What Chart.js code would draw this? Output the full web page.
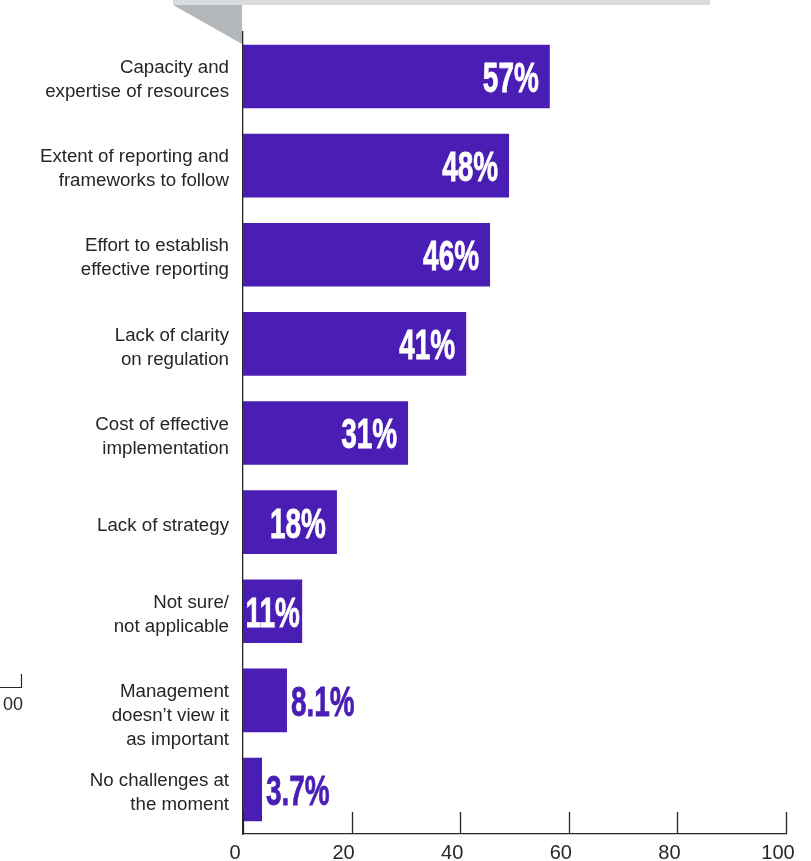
<!DOCTYPE html>
<html>
<head>
<meta charset="utf-8">
<script src="https://cdn.jsdelivr.net/npm/chart.js@4"></script>
<style>
  html, body { margin: 0; padding: 0; background: #fff; }
  #wrap { position: relative; width: 811px; height: 861px; }
</style>
</head>
<body>
<div id="wrap"><canvas id="c" width="811" height="861"></canvas></div>
<script>
// ---- data ----
const categories = [
  ["Capacity and", "expertise of resources"],
  ["Extent of reporting and", "frameworks to follow"],
  ["Effort to establish", "effective reporting"],
  ["Lack of clarity", "on regulation"],
  ["Cost of effective", "implementation"],
  "Lack of strategy",
  ["Not sure/", "not applicable"],
  ["", "Management", "doesn\u2019t view it", "as important"],
  ["No challenges at", "the moment"]
];
const barValues = [56.5, 49.0, 45.5, 41.1, 30.4, 17.3, 10.9, 8.1, 3.5];
const valueLabels = ["57%", "48%", "46%", "41%", "31%", "18%", "11%", "8.1%", "3.7%"];
const xTickValues = [0, 20, 40, 60, 80, 100];

const PURPLE = "#4a1eb4";
const INK = "#262626";

const decorPlugin = {
  id: "decor",
  beforeDraw(chart) {
    const ctx = chart.ctx;
    ctx.save();
    // top grey band and triangle
    ctx.fillStyle = "#dadbdc";
    ctx.fillRect(173, 0, 537, 5);
    ctx.fillStyle = "#b4b7ba";
    ctx.beginPath();
    ctx.moveTo(173, 5);
    ctx.lineTo(242, 5);
    ctx.lineTo(242, 44);
    ctx.closePath();
    ctx.fill();
    // fragment of neighbouring axis at left
    ctx.strokeStyle = INK;
    ctx.lineWidth = 1.2;
    ctx.beginPath();
    ctx.moveTo(0, 687.5);
    ctx.lineTo(21.5, 687.5);
    ctx.lineTo(21.5, 674);
    ctx.stroke();
    ctx.fillStyle = INK;
    ctx.font = "18px 'Liberation Sans', Arial, sans-serif";
    ctx.textBaseline = "middle";
    ctx.textAlign = "left";
    ctx.fillText("00", 3, 705);
    ctx.restore();
  },
  afterDraw(chart) {
    const ctx = chart.ctx;
    const xs = chart.scales.x;
    const area = chart.chartArea;
    ctx.save();
    // upward tick marks
    ctx.strokeStyle = INK;
    ctx.lineWidth = 1.3;
    xs.ticks.forEach(t => {
      const px = Math.round(xs.getPixelForValue(t.value)) + 0.5;
      ctx.beginPath();
      ctx.moveTo(px, area.bottom);
      ctx.lineTo(px, area.bottom - 22);
      ctx.stroke();
    });
    // value labels
    const meta = chart.getDatasetMeta(0);
    const size = 43;
    const sx = 0.65;
    ctx.font = "bold " + size + "px 'Liberation Sans', Arial, sans-serif";
    ctx.textBaseline = "alphabetic";
    meta.data.forEach((bar, i) => {
      const txt = valueLabels[i];
      const w = ctx.measureText(txt).width * sx;
      const left = bar.base;
      const right = bar.x;
      const bw = right - left;
      const y = bar.y + size * 0.716 / 2;
      let x, color;
      if (bw > w + 18) { x = right - 11 - w; color = "#ffffff"; }
      else if (bw > w) { x = left + (bw - w) / 2; color = "#ffffff"; }
      else { x = right + 4; color = PURPLE; }
      ctx.save();
      ctx.fillStyle = color;
      ctx.strokeStyle = color;
      ctx.lineWidth = 0.8;
      ctx.translate(x, y);
      ctx.scale(sx, 1);
      ctx.textAlign = "left";
      ctx.fillText(txt, 0, 0);
      ctx.strokeText(txt, 0, 0);
      ctx.restore();
    });
    ctx.restore();
  }
};

new Chart(document.getElementById("c"), {
  type: "bar",
  data: {
    labels: categories,
    datasets: [{
      data: barValues,
      backgroundColor: PURPLE,
      borderWidth: 0,
      categoryPercentage: 1,
      barPercentage: 0.714
    }]
  },
  options: {
    indexAxis: "y",
    responsive: false,
    animation: false,
    devicePixelRatio: 1,
    layout: { padding: { top: 32, right: 25, bottom: 0, left: 0 } },
    plugins: { legend: { display: false }, tooltip: { enabled: false } },
    scales: {
      x: {
        min: 0, max: 100,
        afterBuildTicks(scale) { scale.ticks = xTickValues.map(v => ({ value: v })); },
        afterFit(scale) { scale.height = 27; scale.paddingLeft = 0; scale.paddingRight = 0; },
        grid: { display: false, drawTicks: false },
        border: { display: true, color: INK, width: 1.3 },
        ticks: {
          padding: 7,
          labelOffset: -8,
          maxRotation: 0,
          autoSkip: false,
          color: INK,
          font: { family: "'Liberation Sans', Arial, sans-serif", size: 20 }
        }
      },
      y: {
        afterFit(scale) { scale.width = 243; scale.paddingTop = 0; scale.paddingBottom = 0; },
        grid: { display: false, drawTicks: false },
        border: { display: true, color: INK, width: 1.3 },
        ticks: {
          padding: 14,
          labelOffset: 3.5,
          autoSkip: false,
          color: INK,
          font: { family: "'Liberation Sans', Arial, sans-serif", size: 18.7, lineHeight: 1.28 }
        }
      }
    }
  },
  plugins: [decorPlugin]
});
</script>
</body>
</html>
